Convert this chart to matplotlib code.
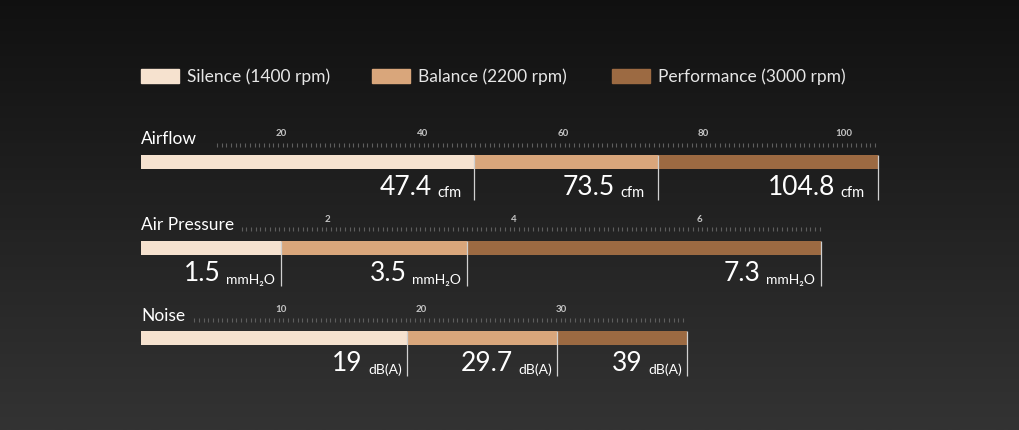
import numpy as np
import matplotlib.pyplot as plt
from matplotlib.patches import Rectangle

plt.rcParams['font.family'] = ['Lato', 'DejaVu Sans']

# data
modes = ['Silence (1400 rpm)', 'Balance (2200 rpm)', 'Performance (3000 rpm)']
colors = ['#f6e2cf', '#d9a67b', '#9c6a42']

metrics = ['Airflow', 'Air Pressure', 'Noise']
units = ['cfm', 'mmH₂O', 'dB(A)']
airflow = [47.4, 73.5, 104.8]
pressure = [1.5, 3.5, 7.3]
noise = [19, 29.7, 39]
airflow_ticks = [20, 40, 60, 80, 100]
pressure_ticks = [2, 4, 6]
noise_ticks = [10, 20, 30]

W, H = 1020, 430

# layout per row (pixels): scale, label y, tick label y, dots y, bar top, line end, value baseline, dots start, unit pad
rows = [
    dict(vals=airflow, ticks=airflow_ticks, ppu=7.03, label_y=139, tick_y=134, dot_y=145,
         bar_top=155, line_end=200, base_y=197, dot_start=10.8, pad=13, unit_fs=10.5),
    dict(vals=pressure, ticks=pressure_ticks, ppu=93.15, label_y=225, tick_y=219, dot_y=229,
         bar_top=241, line_end=286, base_y=284, dot_start=1.08, pad=6, unit_fs=10),
    dict(vals=noise, ticks=noise_ticks, ppu=14.0, label_y=316, tick_y=310, dot_y=320,
         bar_top=331, line_end=376, base_y=374, dot_start=3.8, pad=5, unit_fs=10),
]

fig = plt.figure(figsize=(W / 100, H / 100), dpi=100)

# dark gradient background
bg = fig.add_axes([0, 0, 1, 1])
grad = np.linspace(0, 1, 256).reshape(-1, 1)
top = np.array([0.065, 0.065, 0.065])
bot = np.array([0.20, 0.20, 0.20])
img = top + (bot - top) * grad[:, :, None]
bg.imshow(img, aspect='auto', extent=[0, 1, 0, 1], origin='upper')
bg.axis('off')

# legend
leg_x = [141, 372, 612]
for i, m in enumerate(modes):
    fig.add_artist(Rectangle((leg_x[i] / W, 1 - 83 / H), 38 / W, 14 / H,
                             transform=fig.transFigure, color=colors[i]))
    fig.text((leg_x[i] + 46) / W, 1 - 76.5 / H, m, ha='left', va='center',
             fontsize=12.5, color='#e6e6e6')

for name, unit, r in zip(metrics, units, rows):
    vals = r['vals']
    vmax = vals[-1]
    ax = fig.add_axes([141 / W, 0, vmax * r['ppu'] / W, 1])
    ax.set_xlim(0, vmax)
    ax.set_ylim(H, 0)
    ax.axis('off')
    ax.patch.set_alpha(0)

    lefts = [0] + vals[:-1]
    widths = np.diff([0] + vals)
    ax.barh(r['bar_top'] + 7, widths, left=lefts, height=14, color=colors, clip_on=False)

    # dotted scale
    xs = np.arange(r['dot_start'], vmax + 1e-9, 4.7 / r['ppu'])
    ax.plot(xs, np.full(len(xs), r['dot_y']), ls='none', marker='|', ms=3,
            mew=0.8, color='#5e5e5e', clip_on=False)
    for t in r['ticks']:
        ax.text(t, r['tick_y'], str(t), ha='center', va='center', fontsize=7,
                color='#c4c4c4', fontweight='bold')

    ax.text(0, r['label_y'], name, ha='left', va='center', fontsize=12.5, color='white')

    for v in vals:
        ax.vlines(v, r['bar_top'], r['line_end'], color='#d0d0d0', lw=0.9, clip_on=False)
        u = ax.annotate(unit, xy=(v, r['base_y']), xytext=(-r['pad'] * 0.72, 0),
                        textcoords='offset points', ha='right', va='baseline',
                        fontsize=r['unit_fs'], color='white')
        ax.annotate(f'{v:g}', xy=(0, 0), xycoords=u, xytext=(-4, 0),
                    textcoords='offset points', ha='right', va='bottom',
                    fontsize=19, color='white')

fig.savefig('out.png', dpi=100, facecolor='#111111')
